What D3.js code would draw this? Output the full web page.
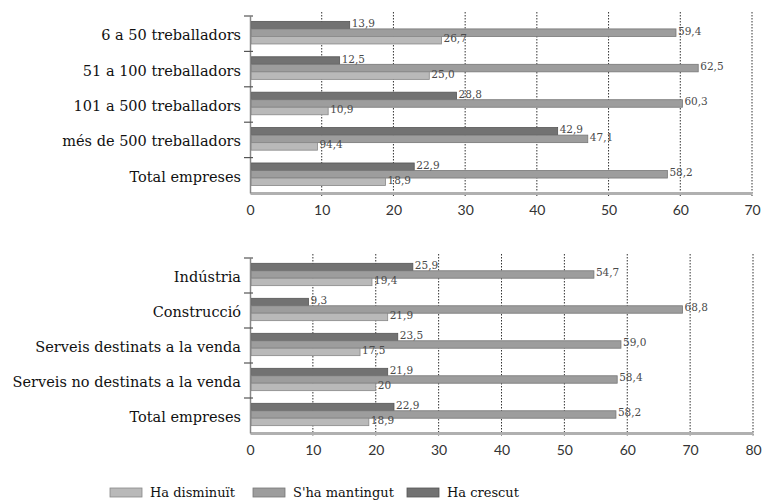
<!DOCTYPE html>
<html>
<head>
<meta charset="utf-8">
<script src="https://cdn.jsdelivr.net/npm/d3@7"></script>
<style>
  html, body { margin: 0; padding: 0; background: #fff; }
  svg { display: block; }
</style>
</head>
<body>
<svg id="chart" width="765" height="501"></svg>
<script>
// ---------- DATA ----------
const series = ["Ha crescut", "S'ha mantingut", "Ha disminuït"];
const legendOrder = ["Ha disminuït", "S'ha mantingut", "Ha crescut"];

const topCategories = ["6 a 50 treballadors", "51 a 100 treballadors", "101 a 500 treballadors", "més de 500 treballadors", "Total empreses"];
const topCrescut    = [13.9, 12.5, 28.8, 42.9, 22.9];
const topMantingut  = [59.4, 62.5, 60.3, 47.1, 58.2];
const topDisminuit  = [26.7, 25.0, 10.9, 9.4, 18.9];
const topLabelsCrescut   = ["13,9", "12,5", "28,8", "42,9", "22,9"];
const topLabelsMantingut = ["59,4", "62,5", "60,3", "47,1", "58,2"];
const topLabelsDisminuit = ["26,7", "25,0", "10,9", "94,4", "18,9"];
const topTicks = [0, 10, 20, 30, 40, 50, 60, 70];

const botCategories = ["Indústria", "Construcció", "Serveis destinats a la venda", "Serveis no destinats a la venda", "Total empreses"];
const botCrescut    = [25.9, 9.3, 23.5, 21.9, 22.9];
const botMantingut  = [54.7, 68.8, 59.0, 58.4, 58.2];
const botDisminuit  = [19.4, 21.9, 17.5, 20, 18.9];
const botLabelsCrescut   = ["25,9", "9,3", "23,5", "21,9", "22,9"];
const botLabelsMantingut = ["54,7", "68,8", "59,0", "58,4", "58,2"];
const botLabelsDisminuit = ["19,4", "21,9", "17,5", "20", "18,9"];
const botTicks = [0, 10, 20, 30, 40, 50, 60, 70, 80];

// ---------- STYLE ----------
const fill   = {"Ha crescut": "#727272", "S'ha mantingut": "#9d9d9d", "Ha disminuït": "#b9b9b9"};
const stroke = {"Ha crescut": "#555", "S'ha mantingut": "#777", "Ha disminuït": "#888"};
const serif = "'DejaVu Serif', 'Liberation Serif', serif";
const sans = "Lato, 'Open Sans', sans-serif";

const svg = d3.select("#chart");

function panel(cfg) {
  const x = d3.scaleLinear().domain([0, cfg.max]).range([250, cfg.xRight]);
  const y = d3.scaleBand().domain(cfg.categories).range([cfg.top, cfg.bottom]).paddingInner(0).paddingOuter(0);
  const sub = d3.scaleBand().domain(series).range([0, y.bandwidth()]).paddingInner(0).paddingOuter(0.85).align(0.42);
  const g = svg.append("g");

  const rows = cfg.categories.map((c, i) => ({
    cat: c,
    vals: [
      {s: series[0], v: cfg.crescut[i], t: cfg.lc[i]},
      {s: series[1], v: cfg.mantingut[i], t: cfg.lm[i]},
      {s: series[2], v: cfg.disminuit[i], t: cfg.ld[i]}
    ]
  }));

  // gridlines (dotted)
  g.selectAll(".grid").data(cfg.ticks.filter(d => d > 0)).join("line")
    .attr("x1", d => x(d)).attr("x2", d => x(d))
    .attr("y1", cfg.top - 4).attr("y2", cfg.bottom + 3)
    .attr("stroke", "#333").attr("stroke-width", 1)
    .attr("stroke-dasharray", "1.5,1.5");

  // bars
  const grp = g.selectAll(".row").data(rows).join("g")
    .attr("transform", d => `translate(0,${y(d.cat)})`);
  grp.selectAll("rect").data(d => d.vals).join("rect")
    .attr("x", x(0) + 1)
    .attr("y", d => sub(d.s))
    .attr("width", d => x(d.v) - x(0) - 1)
    .attr("height", sub.bandwidth())
    .attr("fill", d => fill[d.s])
    .attr("stroke", d => stroke[d.s])
    .attr("stroke-width", 0.8);
  grp.selectAll("text").data(d => d.vals).join("text")
    .attr("x", d => x(d.v) + 2)
    .attr("y", d => sub(d.s) + sub.bandwidth() / 2 - 1)
    .attr("dominant-baseline", "middle")
    .attr("font-family", serif).attr("font-size", 10.5)
    .attr("fill", "#4a4a4a")
    .text(d => d.t);

  // x axis
  const xAxis = d3.axisBottom(x).tickValues(cfg.ticks).tickSize(0).tickPadding(12).tickFormat(d3.format("d"));
  const ax = g.append("g").attr("transform", `translate(0,${cfg.bottom})`).call(xAxis);
  ax.select(".domain").attr("stroke", "#b0b0b0").attr("stroke-width", 3);
  ax.selectAll("text").attr("font-family", sans).attr("font-size", 14).attr("fill", "#333");

  // y axis
  const yAxis = d3.axisLeft(y).tickSize(0).tickPadding(9);
  const ay = g.append("g").attr("transform", `translate(${x(0)},0)`).call(yAxis);
  ay.select(".domain").attr("stroke", "#888").attr("stroke-width", 1.5);
  ay.selectAll("text").attr("font-family", serif).attr("font-size", 14.5).attr("fill", "#111").attr("dy", "0.45em");
  // category boundary tick marks
  g.selectAll(".ytick").data(cfg.categories).join("line")
    .attr("x1", x(0) - 6).attr("x2", x(0) + 3)
    .attr("y1", d => y(d)).attr("y2", d => y(d))
    .attr("stroke", "#555").attr("stroke-width", 1.2);
}

panel({categories: topCategories, crescut: topCrescut, mantingut: topMantingut, disminuit: topDisminuit,
       lc: topLabelsCrescut, lm: topLabelsMantingut, ld: topLabelsDisminuit,
       ticks: topTicks, max: 70, xRight: 752, top: 16, bottom: 193});
panel({categories: botCategories, crescut: botCrescut, mantingut: botMantingut, disminuit: botDisminuit,
       lc: botLabelsCrescut, lm: botLabelsMantingut, ld: botLabelsDisminuit,
       ticks: botTicks, max: 80, xRight: 753, top: 258, bottom: 433});

// legend
const legendX = {"Ha disminuït": 110, "S'ha mantingut": 253, "Ha crescut": 407};
const lg = svg.append("g");
const li = lg.selectAll("g").data(legendOrder).join("g")
  .attr("transform", d => `translate(${legendX[d]},488)`);
li.append("rect").attr("width", 32).attr("height", 9)
  .attr("fill", d => fill[d]).attr("stroke", d => stroke[d]).attr("stroke-width", 0.8);
li.append("text").attr("x", 40).attr("y", 5).attr("dominant-baseline", "middle")
  .attr("font-family", serif).attr("font-size", 13).attr("fill", "#111").text(d => d);
</script>
</body>
</html>
